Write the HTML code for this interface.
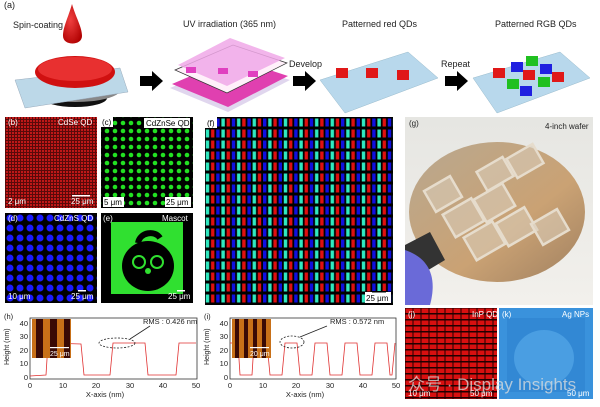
<!DOCTYPE html>
<html><head><meta charset="utf-8"><style>
html,body{margin:0;padding:0;background:#fff;}
svg{display:block;font-family:"Liberation Sans","Noto Sans CJK SC",sans-serif;}
</style></head><body>
<svg width="600" height="407" viewBox="0 0 600 407" xmlns="http://www.w3.org/2000/svg">
<defs>
<pattern id="pb" width="3" height="3" patternUnits="userSpaceOnUse"><rect width="3" height="3" fill="#5a0a0a"/><rect width="2" height="2" fill="#c01818"/></pattern>
<pattern id="pc" width="8" height="8" patternUnits="userSpaceOnUse" x="103" y="119"><rect width="8" height="8" fill="#000"/><circle cx="4" cy="4" r="2.3" fill="#22e022"/></pattern>
<pattern id="pd" width="10" height="10" patternUnits="userSpaceOnUse" x="5" y="213"><rect width="10" height="10" fill="#000"/><circle cx="5" cy="5" r="3.5" fill="#1a1aff"/></pattern>
<pattern id="pf" width="15.6" height="11" patternUnits="userSpaceOnUse" x="205" y="117"><rect width="15.6" height="11" fill="#000"/><rect x="0.8" y="1.5" width="3.4" height="8" fill="#30e8c0"/><rect x="6" y="1.5" width="3.4" height="8" fill="#e01010"/><rect x="11.2" y="1.5" width="3.4" height="8" fill="#1010e0"/></pattern>
<pattern id="pj" width="8" height="6" patternUnits="userSpaceOnUse" x="405" y="308"><rect width="8" height="6" fill="#200000"/><rect x="0.5" y="0.5" width="7" height="4.5" fill="#d81010"/></pattern>
<linearGradient id="wg" x1="0" y1="0" x2="1" y2="1"><stop offset="0" stop-color="#b8a890"/><stop offset="0.6" stop-color="#caa274"/><stop offset="1" stop-color="#a08060"/></linearGradient>
<linearGradient id="gbg" x1="0" y1="0" x2="0" y2="1"><stop offset="0" stop-color="#e6e6e2"/><stop offset="1" stop-color="#f2f0ec"/></linearGradient>
<radialGradient id="drop" cx="0.4" cy="0.4" r="0.7"><stop offset="0" stop-color="#f04040"/><stop offset="1" stop-color="#b00000"/></radialGradient>
</defs>

<!-- (a) -->
<g font-size="9" fill="#222">
<text x="4" y="8">(a)</text>
<text x="13" y="28">Spin-coating</text>
<text x="183" y="27">UV irradiation (365 nm)</text>
<text x="342" y="27">Patterned red QDs</text>
<text x="495" y="27">Patterned RGB QDs</text>
<text x="289" y="67">Develop</text>
<text x="441" y="67">Repeat</text>
</g>
<ellipse cx="75" cy="98" rx="32" ry="9" fill="#111"/>
<ellipse cx="75" cy="90" rx="45" ry="12" fill="#888"/>
<polygon points="15,80 120,68 128,92 25,108" fill="#bcd8e8" stroke="#9ab" stroke-width="0.5"/>
<ellipse cx="75" cy="72" rx="40" ry="16" fill="#d01010"/>
<ellipse cx="75" cy="69" rx="37" ry="12" fill="#e83030"/>
<path d="M72,4 C68,18 63,27 63,36 C63,46 82,46 82,36 C82,27 76,18 72,4Z" fill="url(#drop)"/>
<g fill="#000">
<polygon points="140,76 152,76 152,71 163,81 152,91 152,86 140,86"/>
<polygon points="293,76 305,76 305,71 316,81 305,91 305,86 293,86"/>
<polygon points="445,76 457,76 457,71 468,81 457,91 457,86 445,86"/>
</g>
<polygon points="170,88 233,62 290,80 228,112" fill="#e0d6ee"/>
<polygon points="172,84 233,58 288,76 228,107" fill="#e040b0"/>
<polygon points="175,70 233,45 287,63 227,93" fill="#fff0fa" stroke="#333" stroke-width="0.7"/>
<polygon points="178,65 230,38 285,58 227,86" fill="#f0a8e8" opacity="0.85"/>
<rect x="186" y="67" width="10" height="6" fill="#e040c0"/><rect x="218" y="68" width="10" height="6" fill="#e040c0"/><rect x="248" y="71" width="10" height="6" fill="#e040c0"/>
<polygon points="320,80 408,52 438,78 345,113" fill="#b8d8ec" stroke="#9bc" stroke-width="0.5"/>
<rect x="336" y="68" width="12" height="10" fill="#e01818"/><rect x="366" y="68" width="12" height="10" fill="#e01818"/><rect x="397" y="70" width="12" height="10" fill="#e01818"/>
<polygon points="473,78 560,52 590,78 497,113" fill="#b8d8ec" stroke="#9bc" stroke-width="0.5"/>
<rect x="493" y="68" width="12" height="10" fill="#e01818"/><rect x="511" y="62" width="12" height="10" fill="#2020e0"/><rect x="526" y="56" width="12" height="10" fill="#20c020"/>
<rect x="507" y="79" width="12" height="10" fill="#20c020"/><rect x="523" y="70" width="12" height="10" fill="#e01818"/><rect x="540" y="64" width="12" height="10" fill="#2020e0"/>
<rect x="520" y="86" width="12" height="10" fill="#2020e0"/><rect x="538" y="77" width="12" height="10" fill="#20c020"/><rect x="552" y="72" width="12" height="10" fill="#e01818"/>

<!-- b c d e -->
<rect x="5" y="117" width="92" height="91" fill="url(#pb)"/>
<rect x="101" y="117" width="92" height="91" fill="url(#pc)"/>
<rect x="5" y="213" width="92" height="90" fill="url(#pd)"/>
<rect x="101" y="213" width="92" height="90" fill="#000"/>
<rect x="111" y="222" width="72" height="72" fill="#30e030"/>
<ellipse cx="148" cy="266" rx="26" ry="25" fill="#000"/>
<path d="M138,243 C140,232 155,230 160,238" stroke="#000" stroke-width="6" fill="none"/>
<circle cx="139" cy="262" r="6" fill="none" stroke="#30e030" stroke-width="2"/><circle cx="157" cy="262" r="6" fill="none" stroke="#30e030" stroke-width="2"/>
<circle cx="148" cy="271" r="3" fill="#30e030"/>
<g font-size="8" fill="#fff">
<text x="8" y="125">(b)</text><text x="58" y="125">CdSe QD</text><text x="8" y="204">2 μm</text><text x="71" y="204">25 μm</text>
<text x="8" y="221">(d)</text><text x="54" y="221">CdZnS QD</text><text x="8" y="299">10 μm</text><text x="71" y="299">25 μm</text>
<text x="103" y="221">(e)</text><text x="162" y="221">Mascot</text><text x="168" y="299">25 μm</text>
</g>
<rect x="72" y="195" width="18" height="1.5" fill="#fff"/><rect x="78" y="290" width="8" height="1.5" fill="#fff"/><rect x="177" y="290" width="8" height="1.5" fill="#fff"/>
<rect x="101" y="117" width="12" height="10" fill="#fff"/><text x="102" y="125" font-size="8">(c)</text>
<rect x="144" y="118" width="46" height="10" fill="#fff"/><text x="146" y="126" font-size="8">CdZnSe QD</text>
<rect x="103" y="197" width="21" height="10" fill="#fff"/><text x="104" y="205" font-size="8">5 μm</text>
<rect x="165" y="197" width="26" height="10" fill="#fff"/><text x="166" y="205" font-size="8">25 μm</text>

<!-- f -->
<rect x="205" y="117" width="188" height="188" fill="url(#pf)"/>
<rect x="205" y="117" width="12" height="11" fill="#fff"/><text x="207" y="126" font-size="8">(f)</text>
<rect x="365" y="292" width="26" height="11" fill="#fff"/><text x="366" y="301" font-size="8">25 μm</text><rect x="372" y="291" width="14" height="1.5" fill="#000"/>

<!-- g -->
<rect x="405" y="117" width="188" height="188" fill="url(#gbg)"/>
<ellipse cx="497" cy="212" rx="88" ry="70" fill="url(#wg)"/>
<g fill="#d8ccb8" fill-opacity="0.6" stroke="#e6dccc" stroke-width="2.5">
<rect x="428" y="182" width="30" height="24" transform="rotate(-30 443 194)"/>
<rect x="447" y="205" width="33" height="26" transform="rotate(-30 463 218)"/>
<rect x="478" y="190" width="33" height="26" transform="rotate(-30 494 203)"/>
<rect x="468" y="228" width="33" height="26" transform="rotate(-30 484 241)"/>
<rect x="500" y="214" width="33" height="26" transform="rotate(-30 516 227)"/>
<rect x="480" y="163" width="30" height="22" transform="rotate(-30 495 174)"/>
<rect x="510" y="150" width="30" height="22" transform="rotate(-30 525 161)"/>
<rect x="535" y="215" width="30" height="24" transform="rotate(-30 550 227)"/>
</g>
<path d="M405,245 L430,232 L445,260 L420,275 L405,290Z" fill="#333"/>
<path d="M405,250 C420,255 440,268 430,305 L405,305Z" fill="#6a6ad8"/>
<text x="409" y="126" font-size="8" fill="#222">(g)</text><text x="545" y="129" font-size="8" fill="#222">4-inch wafer</text>

<!-- h, i charts -->
<g font-size="7.5" fill="#222">
<text x="4" y="319">(h)</text><text x="204" y="319">(i)</text>
<rect x="30" y="318" width="167" height="61" fill="none" stroke="#333" stroke-width="0.8"/>
<rect x="230" y="318" width="166" height="61" fill="none" stroke="#333" stroke-width="0.8"/>
<g text-anchor="end"><text x="28" y="380">0</text><text x="28" y="366">10</text><text x="28" y="353">20</text><text x="28" y="339">30</text><text x="28" y="326">40</text>
<text x="228" y="380">0</text><text x="228" y="366">10</text><text x="228" y="353">20</text><text x="228" y="339">30</text><text x="228" y="326">40</text></g>
<g text-anchor="middle"><text x="30" y="388">0</text><text x="63" y="388">10</text><text x="96" y="388">20</text><text x="130" y="388">30</text><text x="163" y="388">40</text><text x="196" y="388">50</text>
<text x="230" y="388">0</text><text x="263" y="388">10</text><text x="296" y="388">20</text><text x="330" y="388">30</text><text x="363" y="388">40</text><text x="396" y="388">50</text>
<text x="105" y="397">X-axis (nm)</text><text x="305" y="397">X-axis (nm)</text></g>
<text transform="translate(9 365) rotate(-90)" font-size="7">Height (nm)</text>
<text transform="translate(209 365) rotate(-90)" font-size="7">Height (nm)</text>
<text x="143" y="324">RMS : 0.426 nm</text><text x="330" y="324">RMS : 0.572 nm</text>
</g>
<polyline fill="none" stroke="#e03030" stroke-width="0.8" points="30,376 46,375 48,343 81,344 84,375 110,375 113,343 145,343 148,375 176,375 179,343 196,343"/>
<polyline fill="none" stroke="#e03030" stroke-width="0.8" points="230,343 238,343 240,375 252,375 254,343 267,343 270,375 282,375 285,343 297,343 300,375 312,375 315,343 327,343 330,375 342,375 345,343 357,343 360,375 372,375 375,343 387,343 390,375 392,375 395,343"/>
<ellipse cx="117" cy="343" rx="18" ry="5" fill="none" stroke="#222" stroke-dasharray="2,1.5" stroke-width="0.8"/>
<ellipse cx="292" cy="342" rx="12" ry="6" fill="none" stroke="#222" stroke-dasharray="2,1.5" stroke-width="0.8"/>
<line x1="130" y1="339" x2="150" y2="326" stroke="#222" stroke-width="0.8"/><line x1="300" y1="337" x2="327" y2="326" stroke="#222" stroke-width="0.8"/>
<rect x="32" y="319" width="39" height="39" fill="#c87018"/>
<rect x="36" y="319" width="7" height="39" fill="#3a0a05"/><rect x="50" y="319" width="7" height="39" fill="#3a0a05"/><rect x="64" y="319" width="6" height="39" fill="#3a0a05"/>
<rect x="50" y="347" width="19" height="1.2" fill="#fff"/><text x="50" y="356" font-size="7" fill="#fff">25 μm</text>
<rect x="232" y="319" width="39" height="39" fill="#c87018"/>
<rect x="235" y="319" width="4" height="39" fill="#3a0a05"/><rect x="244" y="319" width="4" height="39" fill="#3a0a05"/><rect x="253" y="319" width="4" height="39" fill="#3a0a05"/><rect x="262" y="319" width="4" height="39" fill="#3a0a05"/>
<rect x="250" y="347" width="19" height="1.2" fill="#fff"/><text x="250" y="356" font-size="7" fill="#fff">20 μm</text>

<!-- j k -->
<rect x="405" y="308" width="92" height="91" fill="url(#pj)"/>
<rect x="499" y="308" width="94" height="91" fill="#3a92dc"/>
<rect x="507" y="318" width="78" height="74" fill="#3288d4"/>
<ellipse cx="544" cy="358" rx="30" ry="28" fill="#4a9ee2"/>
<g font-size="8" fill="#fff">
<text x="408" y="317">(j)</text><text x="472" y="317">InP QD</text><text x="408" y="396">10 μm</text><text x="470" y="396">50 μm</text>
<text x="502" y="317">(k)</text><text x="562" y="317">Ag NPs</text><text x="567" y="396">50 μm</text>
</g>
<text x="408" y="390" font-size="17" fill="#ddd" fill-opacity="0.75">众号 · Display Insights</text>
</svg>
</body></html>
